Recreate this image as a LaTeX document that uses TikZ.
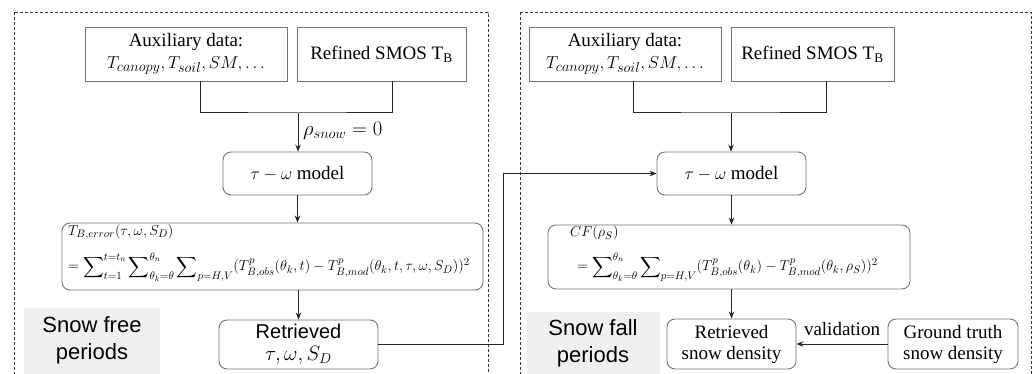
\documentclass[tikz,border=0pt]{standalone}
\usepackage{fontspec}
\setmainfont{Liberation Serif}
\setsansfont{Liberation Sans}
\usepackage{amsmath}
\usetikzlibrary{arrows.meta,calc}
\begin{document}
\begin{tikzpicture}[x=1pt,y=-1pt,
  box/.style={draw=black!55,line width=0.9pt,fill=white,align=center,inner sep=0pt,
    font=\fontsize{19}{23}\selectfont},
  rbox/.style={box,rounded corners=8pt},
  conn/.style={line width=1pt,draw=black!85},
  arr/.style={conn,-{Stealth[length=7pt,width=5.5pt]}},
  panel/.style={draw=black!80,line width=0.9pt,dash pattern=on 3pt off 2pt},
  graybox/.style={fill=black!6,draw=none},
  graylabel/.style={font=\sffamily\fontsize{22}{27}\selectfont,align=center},
  fml/.style={anchor=west,inner sep=0pt,font=\fontsize{15.3}{17}\selectfont}
]
\useasboundingbox (0,0) rectangle (1035,374);
\begin{scope}
\clip (0,0) rectangle (1035,374);
\draw[panel] (14,12) rectangle (488,400);
\draw[panel] (520,12) rectangle (1031,400);
\end{scope}

% gray labels
\fill[graybox] (24,308) rectangle (160,374);
\node[graylabel] (sfree) at (92,340) {Snow free\\periods};
\fill[graybox] (527,312) rectangle (660,374);
\node[graylabel] (sfall) at (593,343) {Snow fall\\periods};

% ---------- left panel ----------
\node[box,minimum width=202pt,minimum height=54pt] (aux1) at (186,54)
  {Auxiliary data:\\[-1pt]$T_{canopy},T_{soil},SM,\ldots$};
\node[box,minimum width=169pt,minimum height=54pt] (ref1) at (381.5,54)
  {Refined SMOS T\textsubscript{B}};
\node[rbox,minimum width=149pt,minimum height=43pt] (tw1) at (297.5,173.5)
  {$\tau-\omega$ model};
\node[rbox,minimum width=421pt,minimum height=67pt] (err) at (272.5,256.5) {};
\node[fml] (errA) at (68,232) {$T_{B,error}(\tau,\omega,S_D)$};
\node[fml] (errB) at (68,267) {$\displaystyle =\sum\nolimits_{t=1}^{t=t_n}\sum\nolimits_{\theta_k=\theta}^{\theta_n}\sum\nolimits_{p=H,V}(T_{B,obs}^{p}(\theta_k,t)-T_{B,mod}^{p}(\theta_k,t,\tau,\omega,S_D))^2$};
\node[rbox,minimum width=159pt,minimum height=49pt,font=\sffamily\fontsize{20}{24}\selectfont] (ret1) at (298.5,344.5)
  {Retrieved\\[-2pt]$\tau,\omega,S_D$};

\coordinate (m1) at (298,113);
\draw[conn] ($(aux1.south)+(14,0)$) |- (m1) -| ($(ref1.south)+(10.5,0)$);
\draw[arr] (m1) -- (m1 |- tw1.north);
\node[font=\fontsize{21}{24}\selectfont,anchor=west,inner sep=0pt] (rho) at (303,131) {$\rho_{snow}=0$};
\draw[arr] (tw1.south) -- (tw1.south |- err.north);
\draw[arr] (err.south -| ret1.north) -- (ret1.north);

% ---------- right panel ----------
\node[box,minimum width=192pt,minimum height=54pt] (aux2) at (625,54)
  {Auxiliary data:\\[-1pt]$T_{canopy},T_{soil},SM,\ldots$};
\node[box,minimum width=163pt,minimum height=54pt] (ref2) at (812.5,54)
  {Refined SMOS T\textsubscript{B}};
\node[rbox,minimum width=149pt,minimum height=43pt] (tw2) at (731.5,173.5)
  {$\tau-\omega$ model};
\node[rbox,minimum width=362pt,minimum height=64pt] (cf) at (729,257) {};
\node[fml] (cfA) at (570,233) {$CF(\rho_S)$};
\node[fml] (cfB) at (577,267) {$\displaystyle =\sum\nolimits_{\theta_k=\theta}^{\theta_n}\sum\nolimits_{p=H,V}(T_{B,obs}^{p}(\theta_k)-T_{B,mod}^{p}(\theta_k,\rho_S))^2$};
\node[rbox,minimum width=129pt,minimum height=50pt] (ret2) at (731.5,344)
  {Retrieved\\[-2pt]snow density};
\node[rbox,minimum width=130pt,minimum height=50pt] (gt) at (953,344)
  {Ground truth\\[-2pt]snow density};

\coordinate (m2) at (731,113);
\draw[conn] ($(aux2.south)+(8,0)$) |- (m2) -| ($(ref2.south)+(13.5,0)$);
\draw[arr] (m2) -- (m2 |- tw2.north);
\draw[arr] (tw2.south) -- (tw2.south |- cf.north);
\draw[arr] (cf.south -| ret2.north) -- (ret2.north);
\draw[arr] (gt.west) -- (ret2.east) node[midway,above=8pt,font=\fontsize{19}{23}\selectfont,inner sep=0pt] (val) {validation};

% ---------- link between panels ----------
\coordinate (c1) at (503,0);
\draw[arr] (ret1.east) -- (ret1.east -| c1) -- (c1 |- tw2.west) -- (tw2.west);
\end{tikzpicture}
\end{document}
